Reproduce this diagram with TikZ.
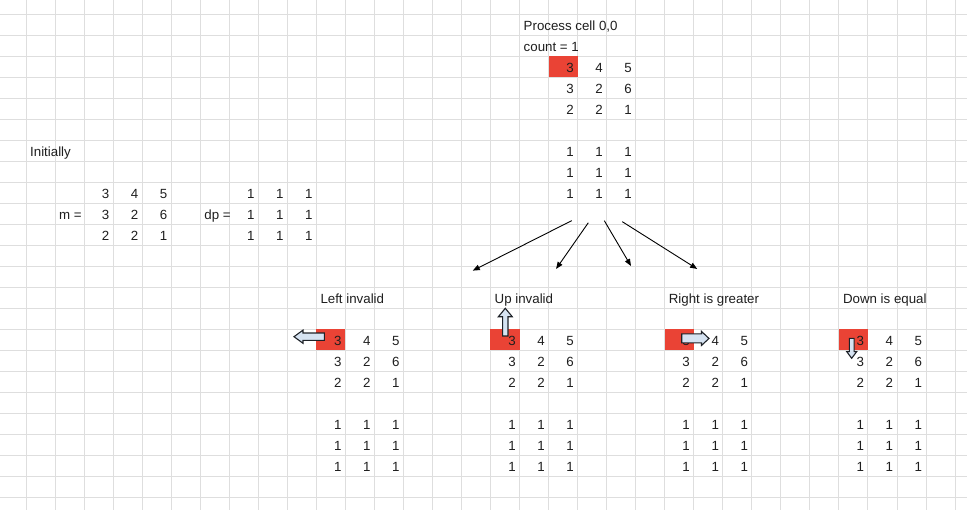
\documentclass[tikz,border=0pt]{standalone}
\usepackage{fontspec}
\setmainfont{Liberation Sans}
\usepackage{tikz}
\usetikzlibrary{arrows.meta}

\definecolor{gridgray}{RGB}{222,222,222}
\definecolor{cellred}{RGB}{234,67,53}
\definecolor{arrowblue}{RGB}{214,227,242}
\definecolor{arrowedge}{RGB}{30,34,40}
\definecolor{ink}{RGB}{30,30,30}

\tikzset{
	sheet/.style={x=29.03pt,y=-21pt},
	gridline/.style={draw=gridgray,line width=0.8pt},
	num/.style={anchor=base east,inner sep=0pt,xshift=-3.6pt,yshift=4.6pt,text=ink,font=\fontsize{13.3}{16}\selectfont},
	lbl/.style={anchor=base west,inner sep=0pt,xshift=4pt,yshift=4.6pt,text=ink,font=\fontsize{13.3}{16}\selectfont},
	hot/.style={fill=cellred},
	link/.style={draw=black,line width=0.9pt,-{Triangle[length=7pt,width=5.5pt]}},
	blockarrow/.style={draw=arrowedge,fill=arrowblue,line width=1.1pt,line join=miter},
}

% 3x3 block of numbers: name, first column, first row, values
\newcommand{\cellblock}[4]{%
	\foreach \v [count=\idx from 0] in {#4} {
		\pgfmathtruncatemacro{\row}{div(\idx,3)}
		\pgfmathtruncatemacro{\col}{mod(\idx,3)}
		\node[num] (#1-\row-\col) at (#2+\col+1,#3+\row+1) {\v};
	}%
}

% fat arrow: tail, angle, length, shaft half width, head half width, head length
\newcommand{\blockarrow}[6]{%
	\pgfmathsetmacro{\bodylen}{#3-#6}
	\draw[blockarrow,shift={#1},rotate=#2]
		(0pt,-#4pt) -- (\bodylen pt,-#4pt) -- (\bodylen pt,-#5pt) -- (#3pt,0pt)
		-- (\bodylen pt,#5pt) -- (\bodylen pt,#4pt) -- (0pt,#4pt) -- cycle;
}

\begin{document}
\begin{tikzpicture}[sheet]
	\useasboundingbox (-26pt,14pt) rectangle (941pt,-496pt);

	% sheet grid
	\foreach \i in {0,...,32} \draw[gridline] (\i,-1) -- (\i,24);
	\foreach \j in {0,...,23} \draw[gridline] (-1,\j) -- (33,\j);

	\foreach \c/\r in {18/2,10/15,16/15,22/15,28/15}
		\fill[hot] (\c,\r) rectangle ++(1,1);

	\node[lbl] (process) at (17,1) {Process cell 0,0};
	\node[lbl] (count) at (17,2) {count = 1};
	\node[lbl] (initially) at (0,7) {Initially};
	\node[lbl] (m-label) at (1,10) {m =};
	\node[lbl] (dp-label) at (6,10) {dp =};
	\node[lbl] (left-title) at (10,14) {Left invalid};
	\node[lbl] (up-title) at (16,14) {Up invalid};
	\node[lbl] (right-title) at (22,14) {Right is greater};
	\node[lbl] (down-title) at (28,14) {Down is equal};

	\cellblock{top-m}{18}{2}{3,4,5,3,2,6,2,2,1}
	\cellblock{top-dp}{18}{6}{1,1,1,1,1,1,1,1,1}
	\cellblock{init-m}{2}{8}{3,4,5,3,2,6,2,2,1}
	\cellblock{init-dp}{7}{8}{1,1,1,1,1,1,1,1,1}
	\foreach \name/\c in {left/10,up/16,right/22,down/28} {
		\cellblock{\name-m}{\c}{15}{3,4,5,3,2,6,2,2,1}
		\cellblock{\name-dp}{\c}{19}{1,1,1,1,1,1,1,1,1}
	}

	\coordinate (from-left) at (18.80,9.84);
	\coordinate (to-left) at (15.39,12.22);
	\coordinate (from-up) at (19.37,9.94);
	\coordinate (to-up) at (18.26,12.14);
	\coordinate (from-right) at (19.92,9.84);
	\coordinate (to-right) at (20.84,12.00);
	\coordinate (from-down) at (20.54,9.89);
	\coordinate (to-down) at (23.12,12.14);
	\foreach \d in {left,up,right,down} \draw[link] (from-\d) -- (to-\d);

	\blockarrow{(10.276,15.367)}{180}{30.3}{3.7}{6.6}{9}
	\blockarrow{(16.511,15.333)}{90}{27.7}{2.7}{7}{8.5}
	\blockarrow{(22.587,15.45)}{0}{27.3}{4.5}{7}{7.5}
	\blockarrow{(28.443,15.443)}{-90}{20}{2.4}{5}{6.7}
\end{tikzpicture}
\end{document}
